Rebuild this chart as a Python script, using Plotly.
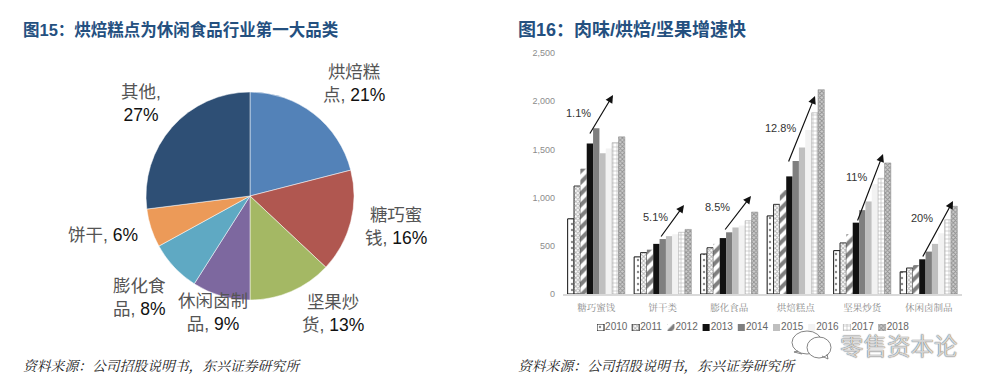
import re
import plotly.graph_objects as go

W, H = 989, 386

# ---- data ----
pie_names = ["烘焙糕点", "糖巧蜜饯", "坚果炒货", "休闲卤制品", "膨化食品", "饼干", "其他"]
pie_values = [21, 16, 13, 9, 8, 6, 27]
pie_labels = ["烘焙糕<br>点, 21%", "糖巧蜜<br>钱, 16%", "坚果炒<br>货, 13%", "休闲卤制<br>品, 9%",
              "膨化食<br>品, 8%", "饼干, 6%", "其他,<br>27%"]
pie_colors = ["#5382B8", "#B05750", "#A4B864", "#7D689F", "#5FA9C3", "#EC9A58", "#2E4F75"]

categories = ["糖巧蜜饯", "饼干类", "膨化食品", "烘焙糕点", "坚果炒货", "休闲卤制品"]
years = ["2010", "2011", "2012", "2013", "2014", "2015", "2016", "2017", "2018"]
v2010 = [780, 385, 415, 810, 450, 230]
v2011 = [1120, 430, 480, 930, 530, 270]
v2012 = [1300, 460, 520, 1080, 620, 300]
v2013 = [1560, 520, 580, 1220, 740, 360]
v2014 = [1720, 570, 640, 1380, 870, 440]
v2015 = [1460, 600, 690, 1520, 960, 520]
v2016 = [1510, 620, 710, 1700, 1140, 630]
v2017 = [1570, 640, 760, 1880, 1200, 770]
v2018 = [1630, 670, 850, 2120, 1360, 910]
series = [v2010, v2011, v2012, v2013, v2014, v2015, v2016, v2017, v2018]
growth = ["1.1%", "5.1%", "8.5%", "12.8%", "11%", "20%"]
y_ticks = [0, 500, 1000, 1500, 2000, 2500]
y_tick_labels = ["0", "500", "1,000", "1,500", "2,000", "2,500"]
title_left = "图15：烘焙糕点为休闲食品行业第一大品类"
title_right = "图16：肉味/烘焙/坚果增速快"
source = "资料来源：公司招股说明书，东兴证券研究所"
watermark = "零售资本论"

# ---- styles / layout positions (pixels) ----
def px(x): return x / W
def py(y): return 1 - y / H

SANS = "Liberation Sans, Noto Sans CJK SC, sans-serif"
SERIF = "Liberation Serif, Noto Serif CJK SC, Noto Sans CJK SC, serif"

styles = [
    dict(color="white", line=dict(color="#111", width=1),
         pattern=dict(shape=".", fgcolor="#111", bgcolor="white", size=6, solidity=0.12)),
    dict(color="white", line=dict(color="#333", width=1),
         pattern=dict(shape="x", fgcolor="#666", bgcolor="white", size=3, solidity=0.5)),
    dict(color="white", line=dict(color="white", width=0),
         pattern=dict(shape="/", fgcolor="#000", bgcolor="white", size=8, solidity=0.5)),
    dict(color="#111111", line=dict(width=0)),
    dict(color="#7F7F7F", line=dict(width=0)),
    dict(color="#BFBFBF", line=dict(width=0)),
    dict(color="#F2F2F2", line=dict(width=0)),
    dict(color="white", line=dict(color="#999", width=0.5),
         pattern=dict(shape="+", fgcolor="#777", bgcolor="white", size=4, solidity=0.3)),
    dict(color="white", line=dict(color="#888", width=0.5),
         pattern=dict(shape="x", fgcolor="#555", bgcolor="#ccc", size=3, solidity=0.5)),
]

fig = go.Figure()

fig.add_trace(go.Pie(
    labels=pie_names, values=pie_values, sort=False, direction="clockwise", rotation=0,
    marker=dict(colors=pie_colors, line=dict(color="white", width=0.5)),
    textinfo="none", hoverinfo="label+percent", showlegend=False,
    domain=dict(x=[px(146), px(354)], y=[py(300), py(92)]),
))

for name, vals, st in zip(years, series, styles):
    fig.add_trace(go.Bar(name=name, x=categories, y=vals, marker=st, showlegend=False,
                         xaxis="x", yaxis="y"))

# legend row: swatches and labels drawn on their own small axes
leg_x = list(range(len(years)))
for i, (name, st) in enumerate(zip(years, styles)):
    fig.add_trace(go.Bar(x=[leg_x[i]], y=[1], marker=st, width=0.2, showlegend=False,
                         xaxis="x2", yaxis="y2", hoverinfo="skip", offset=0))
fig.add_trace(go.Scatter(x=[i + 0.23 for i in leg_x], y=[0.5] * len(years), text=years, mode="text",
                         textposition="middle right", cliponaxis=False, showlegend=False,
                         textfont=dict(size=10, color="#666", family=SANS),
                         xaxis="x2", yaxis="y2", hoverinfo="skip"))

fig.update_layout(
    width=W, height=H, margin=dict(l=0, r=0, t=0, b=0, pad=0, autoexpand=False), autosize=False,
    paper_bgcolor="white", plot_bgcolor="white", showlegend=False,
    barmode="group", bargap=0.14, bargroupgap=0,
    xaxis=dict(domain=[px(563), px(962)], anchor="y", showgrid=False, ticks="", automargin=False,
               showline=True, linecolor="#D9D9D9", linewidth=2, ticklabelstandoff=4,
               tickfont=dict(size=9.5, color="#8C8C8C", family=SERIF)),
    yaxis=dict(domain=[py(294), py(53)], anchor="x", range=[0, 2500], showgrid=False, automargin=False,
               tickvals=y_ticks, ticktext=y_tick_labels, ticks="", showline=False, ticklabelstandoff=7,
               tickfont=dict(size=9, color="#8C8C8C", family=SANS)),
    xaxis2=dict(domain=[px(597), px(597 + 35.2 * 9)], anchor="y2", range=[0, 9], visible=False),
    yaxis2=dict(domain=[py(331), py(324)], anchor="x2", range=[0, 1], visible=False),
    font=dict(family=SANS),
)

ann = []
def text(x, y, s, size, color, family=SANS, **kw):
    ann.append(dict(x=px(x), y=py(y), xref="paper", yref="paper", text=s, showarrow=False,
                    font=dict(size=size, color=color, family=family),
                    xanchor=kw.pop("xanchor", "center"), yanchor="middle", **kw))

# titles, sources
text(21, 29, "<b>" + title_left + "</b>", 16.5, "#24507F", xanchor="left")
text(516, 29, "<b>" + title_right + "</b>", 18, "#24507F", xanchor="left")
for x0 in (21, 516):
    text(x0, 366, "<i>" + source + "</i>", 13.8, "#222", SERIF, xanchor="left")

# pie labels
pie_label_pos = [(354, 83), (396, 226), (333, 313), (213, 312), (139, 297), (103, 235), (141, 103)]
for (x0, y0), s in zip(pie_label_pos, pie_labels):
    s = re.sub(r"(\d+%)", r'<span style="color:#111">\1</span>', s)
    text(x0, y0, s, 17.5, "#555555")

# growth labels and arrows
label_pos = [(578, 113), (655, 217), (717, 207), (780, 128), (856, 177), (922, 218)]
arrow_pos = [(589, 135, 613, 95), (660, 238, 684, 205), (724, 231, 751, 196),
             (788, 163, 815, 96), (857, 222, 883, 154), (922, 258, 953, 201)]
for (x0, y0), s in zip(label_pos, growth):
    text(x0, y0, s, 11, "#333333")
for x0, y0, x1, y1 in arrow_pos:
    ann.append(dict(x=px(x1), y=py(y1), ax=x0 - x1, ay=y0 - y1, xref="paper", yref="paper",
                    axref="pixel", ayref="pixel", text="", showarrow=True,
                    arrowhead=2, arrowsize=1.3, arrowwidth=1.2, arrowcolor="#111"))

# watermark
text(899, 345, watermark, 23.5, "rgba(255,255,255,0.75)", "Noto Sans CJK SC")
ann[-1]["font"]["shadow"] = "0 0 1px #444, 0 0 1px #444"
fig.update_layout(annotations=ann)

def circle(x0, y0, x1, y1):
    return dict(type="circle", xref="paper", yref="paper", x0=px(x0), x1=px(x1), y0=py(y1), y1=py(y0),
                fillcolor="white", line=dict(color="#666", width=0.8))
def tail(p):
    d = "M" + " L".join(f"{px(a):.4f},{py(b):.4f}" for a, b in p)
    return dict(type="path", xref="paper", yref="paper", path=d, line=dict(color="#666", width=0.8))

fig.update_layout(shapes=[
    circle(792, 331, 822, 354), tail([(798, 351), (794, 352), (802, 354)]),
    circle(807, 337, 831, 358), tail([(822, 356), (828, 359), (827, 354)]),
])

fig.write_html("out.html", config=dict(displayModeBar=False),
               post_script="document.body.style.margin='0';")
